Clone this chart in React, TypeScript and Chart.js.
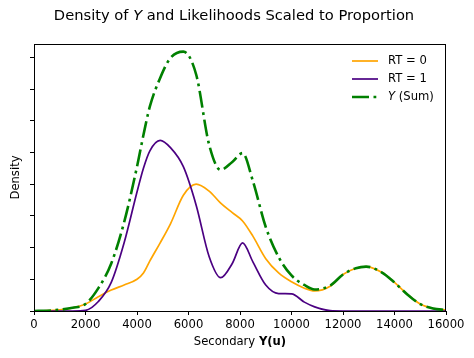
import React, { useEffect, useRef } from "react";
import { Chart, registerables } from "chart.js";

Chart.register(...registerables);

const xValues = [0, 500, 1000, 1500, 2000, 2500, 3000, 3500, 4000, 4250, 4500, 4900, 5300, 5800, 6300, 6800, 7250, 7700, 8100, 8500, 9000, 9500, 10000, 10500, 10900, 11500, 12000, 12500, 12900, 13500, 14000, 14500, 15000, 15500, 16000];
const rt0Values = [0, 0.01, 0.04, 0.1, 0.22, 0.45, 0.66, 0.82, 1.0, 1.2, 1.58, 2.15, 2.75, 3.65, 4.0, 3.78, 3.4, 3.1, 2.84, 2.36, 1.65, 1.2, 0.92, 0.72, 0.63, 0.78, 1.15, 1.35, 1.4, 1.22, 0.9, 0.52, 0.22, 0.08, 0.03];
const rt1Values = [0, 0, 0, 0, 0.02, 0.3, 0.9, 2.15, 3.75, 4.5, 5.05, 5.38, 5.15, 4.55, 3.33, 1.72, 1.05, 1.5, 2.15, 1.55, 0.82, 0.55, 0.54, 0.28, 0.13, 0.01, 0, 0, 0, 0, 0, 0, 0, 0, 0];
const sumValues = [0, 0.01, 0.04, 0.1, 0.22, 0.72, 1.5, 2.8, 4.55, 5.55, 6.45, 7.35, 7.98, 8.18, 7.45, 5.25, 4.45, 4.7, 4.98, 4.1, 2.65, 1.7, 1.12, 0.82, 0.68, 0.8, 1.15, 1.35, 1.4, 1.22, 0.9, 0.52, 0.22, 0.08, 0.03];

const xMin = 0;
const xMax = 16000;
const xStep = 2000;
const yMax = 8.42;
const yTickValues = [0, 1, 2, 3, 4, 5, 6, 7, 8];

const titleParts = [
  { text: "Density of ", italic: false, bold: false },
  { text: "Y", italic: true, bold: false },
  { text: " and Likelihoods Scaled to Proportion", italic: false, bold: false },
];
const xLabelParts = [
  { text: "Secondary ", italic: false, bold: false },
  { text: "Y(u)", italic: false, bold: true },
];
const yLabel = "Density";

const ORANGE = "#FFA500";
const INDIGO = "#4B0082";
const GREEN = "#008000";
const FONT = "'DejaVu Sans', sans-serif";
const GREEN_DASH = [17, 4.5, 2.8, 4.5];

const legendItems = [
  { parts: [{ text: "RT = 0", italic: false, bold: false }], color: ORANGE, width: 1.7, dash: [] as number[] },
  { parts: [{ text: "RT = 1", italic: false, bold: false }], color: INDIGO, width: 1.7, dash: [] as number[] },
  {
    parts: [
      { text: "Y", italic: true, bold: false },
      { text: " (Sum)", italic: false, bold: false },
    ],
    color: GREEN,
    width: 2.6,
    dash: GREEN_DASH,
  },
];

type Part = { text: string; italic: boolean; bold: boolean };

function fontFor(p: Part, size: number) {
  return `${p.italic ? "italic " : ""}${p.bold ? "bold " : ""}${size}px ${FONT}`;
}

function drawParts(ctx: CanvasRenderingContext2D, parts: Part[], size: number, x: number, y: number, align: "center" | "left") {
  let total = 0;
  const widths = parts.map((p) => {
    ctx.font = fontFor(p, size);
    const w = ctx.measureText(p.text).width;
    total += w;
    return w;
  });
  let cx = align === "center" ? x - total / 2 : x;
  ctx.textAlign = "left";
  ctx.textBaseline = "middle";
  parts.forEach((p, i) => {
    ctx.font = fontFor(p, size);
    ctx.fillText(p.text, cx, y);
    cx += widths[i];
  });
}

const decorPlugin = {
  id: "decor",
  afterDraw(chart: any) {
    const { ctx, chartArea: ca } = chart;
    ctx.save();
    ctx.fillStyle = "#000";
    ctx.strokeStyle = "#000";
    ctx.lineWidth = 1;
    ctx.setLineDash([]);
    ctx.strokeRect(ca.left + 0.5, ca.top + 0.5, ca.right - ca.left - 1, ca.bottom - ca.top);

    drawParts(ctx, titleParts, 14.7, 234, 16, "center");
    drawParts(ctx, xLabelParts, 11.6, (ca.left + ca.right) / 2, 342, "center");

    ctx.save();
    ctx.translate(16, (ca.top + ca.bottom) / 2);
    ctx.rotate(-Math.PI / 2);
    drawParts(ctx, [{ text: yLabel, italic: false, bold: false }], 11.6, 0, 0, "center");
    ctx.restore();

    const lx0 = ca.right - 94;
    const lx1 = lx0 + 26;
    const tx = lx1 + 10;
    legendItems.forEach((item, i) => {
      const y = ca.top + 17 + i * 18;
      ctx.beginPath();
      ctx.strokeStyle = item.color;
      ctx.lineWidth = item.width;
      ctx.setLineDash(item.dash);
      ctx.moveTo(lx0, y);
      ctx.lineTo(lx1, y);
      ctx.stroke();
      ctx.setLineDash([]);
      ctx.fillStyle = "#000";
      drawParts(ctx, item.parts, 11.6, tx, y, "left");
    });
    ctx.restore();
  },
};

export default function App() {
  const canvasRef = useRef<HTMLCanvasElement | null>(null);

  useEffect(() => {
    if (!canvasRef.current) return;
    const toPts = (ys: number[]) => xValues.map((x, i) => ({ x, y: ys[i] }));
    const common = {
      pointRadius: 0,
      cubicInterpolationMode: "monotone" as const,
      fill: false,
    };
    const chart = new Chart(canvasRef.current, {
      type: "line",
      data: {
        datasets: [
          { label: "RT = 0", data: toPts(rt0Values), borderColor: ORANGE, borderWidth: 1.7, order: 2, ...common },
          { label: "RT = 1", data: toPts(rt1Values), borderColor: INDIGO, borderWidth: 1.7, order: 1, ...common },
          {
            label: "Y (Sum)",
            data: toPts(sumValues),
            borderColor: GREEN,
            borderWidth: 2.6,
            borderDash: GREEN_DASH,
            order: 0,
            ...common,
          },
        ],
      },
      options: {
        animation: false,
        responsive: false,
        maintainAspectRatio: false,
        layout: { padding: { left: 0, top: 44, right: 28, bottom: 0 } },
        plugins: {
          legend: { display: false },
          tooltip: { enabled: false },
          title: { display: false },
        },
        scales: {
          x: {
            type: "linear",
            min: xMin,
            max: xMax,
            afterFit: (scale: any) => {
              scale.height = 47;
            },
            ticks: {
              stepSize: xStep,
              color: "#000",
              font: { family: FONT, size: 11.6 },
              padding: 3,
              maxRotation: 0,
              autoSkip: false,
              callback: (v: any) => String(v),
            },
            grid: {
              display: true,
              drawOnChartArea: false,
              drawTicks: true,
              tickLength: 4,
              color: "#000",
            },
            border: { display: true, color: "#000", width: 1 },
          },
          y: {
            type: "linear",
            min: 0,
            max: yMax,
            afterFit: (scale: any) => {
              scale.width = 34;
            },
            afterBuildTicks: (scale: any) => {
              scale.ticks = yTickValues.map((v) => ({ value: v }));
            },
            ticks: {
              display: false,
            },
            grid: {
              display: true,
              drawOnChartArea: false,
              drawTicks: true,
              tickLength: 4,
              color: "#000",
            },
            border: { display: true, color: "#000", width: 1 },
          },
        },
      },
      plugins: [decorPlugin],
    });
    return () => chart.destroy();
  }, []);

  return (
    <div style={{ position: "fixed", left: 0, top: 0, width: 474, height: 358, background: "#fff" }}>
      <canvas ref={canvasRef} width={474} height={358} />
    </div>
  );
}
